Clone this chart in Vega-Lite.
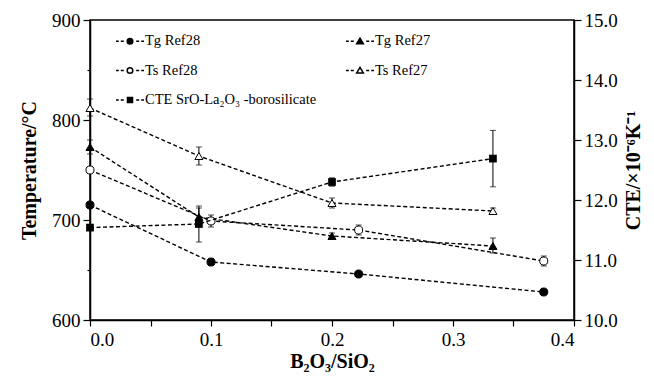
{
  "$schema": "https://vega.github.io/schema/vega-lite/v6.json",
  "width": 484,
  "height": 300,
  "autosize": {"type": "none"},
  "padding": {"left": 90, "top": 20, "right": 80, "bottom": 62},
  "background": "white",
  "datasets": {
    "temps": [
      {"series": "Tg Ref28", "x": 0.0, "T": 715, "lo": 715, "hi": 715},
      {"series": "Tg Ref28", "x": 0.1, "T": 658, "lo": 655, "hi": 661},
      {"series": "Tg Ref28", "x": 0.222, "T": 646, "lo": 644, "hi": 648},
      {"series": "Tg Ref28", "x": 0.375, "T": 628, "lo": 626, "hi": 630},
      {"series": "Ts Ref28", "x": 0.0, "T": 750, "lo": 750, "hi": 750},
      {"series": "Ts Ref28", "x": 0.1, "T": 699, "lo": 693, "hi": 705},
      {"series": "Ts Ref28", "x": 0.222, "T": 690, "lo": 685, "hi": 695},
      {"series": "Ts Ref28", "x": 0.375, "T": 659, "lo": 654, "hi": 664},
      {"series": "Tg Ref27", "x": 0.0, "T": 773, "lo": 766, "hi": 780},
      {"series": "Tg Ref27", "x": 0.09, "T": 703, "lo": 694, "hi": 712},
      {"series": "Tg Ref27", "x": 0.2, "T": 684, "lo": 681, "hi": 687},
      {"series": "Tg Ref27", "x": 0.333, "T": 674, "lo": 667, "hi": 682},
      {"series": "Ts Ref27", "x": 0.0, "T": 812, "lo": 804, "hi": 821},
      {"series": "Ts Ref27", "x": 0.09, "T": 764, "lo": 755, "hi": 773},
      {"series": "Ts Ref27", "x": 0.2, "T": 717, "lo": 712, "hi": 722},
      {"series": "Ts Ref27", "x": 0.333, "T": 709, "lo": 706, "hi": 712}
    ],
    "cte": [
      {"series": "CTE SrO-La₂O₃ -borosilicate", "x": 0.0, "cte": 11.54, "lo": 11.5, "hi": 11.58},
      {"series": "CTE SrO-La₂O₃ -borosilicate", "x": 0.09, "cte": 11.6, "lo": 11.3, "hi": 11.9},
      {"series": "CTE SrO-La₂O₃ -borosilicate", "x": 0.2, "cte": 12.3, "lo": 12.23, "hi": 12.37},
      {"series": "CTE SrO-La₂O₃ -borosilicate", "x": 0.333, "cte": 12.69, "lo": 12.22, "hi": 13.16}
    ]
  },
  "layer": [
    {
      "data": {"name": "temps"},
      "layer": [
        {
          "mark": {"type": "line", "color": "black", "strokeWidth": 1.4, "strokeDash": [4, 2.5]},
          "encoding": {
            "x": {"field": "x", "type": "quantitative", "title": "B₂O₃/SiO₂", "scale": {"domain": [0, 0.4], "nice": false},
              "axis": {"values": [0, 0.05, 0.1, 0.15, 0.2, 0.25, 0.3, 0.35, 0.4], "format": ".1f",
                "labelExpr": "round(datum.value*100) % 10 == 0 ? datum.label : ''"}},
            "y": {"field": "T", "type": "quantitative", "title": "Temperature/°C", "scale": {"domain": [600, 900], "nice": false},
              "axis": {"orient": "left", "values": [600, 650, 700, 750, 800, 850, 900],
                "labelExpr": "datum.value % 100 == 0 ? datum.label : ''",
                "tickSize": {"condition": {"test": "datum.value % 100 != 0", "value": 3}, "value": 7},
                "titlePadding": 12}},
            "detail": {"field": "series"}
          }
        },
        {
          "transform": [{"filter": "datum.hi > datum.lo"}],
          "mark": {"type": "errorbar", "ticks": {"size": 6}, "color": "black", "thickness": 1},
          "encoding": {
            "x": {"field": "x", "type": "quantitative", "title": "B₂O₃/SiO₂"},
            "y": {"field": "lo", "type": "quantitative", "title": "Temperature/°C"},
            "y2": {"field": "hi"}
          }
        },
        {
          "mark": {"type": "point", "filled": true, "stroke": "black", "strokeWidth": 1, "size": 65, "opacity": 1},
          "encoding": {
            "x": {"field": "x", "type": "quantitative", "title": "B₂O₃/SiO₂"},
            "y": {"field": "T", "type": "quantitative", "title": "Temperature/°C"},
            "shape": {"field": "series", "type": "nominal",
              "scale": {"domain": ["Tg Ref28", "Tg Ref27", "Ts Ref28", "Ts Ref27"], "range": ["circle", "triangle-up", "circle", "triangle-up"]},
              "legend": null},
            "fill": {"field": "series", "type": "nominal",
              "scale": {"domain": ["Tg Ref28", "Tg Ref27", "Ts Ref28", "Ts Ref27"], "range": ["black", "black", "white", "white"]},
              "legend": null}
          }
        },
        {
          "mark": {"type": "point", "filled": true, "opacity": 0, "stroke": "black"},
          "encoding": {
            "x": {"field": "x", "type": "quantitative", "title": "B₂O₃/SiO₂"},
            "y": {"field": "T", "type": "quantitative", "title": "Temperature/°C"},
            "shape": {"field": "series", "type": "nominal",
              "scale": {"domain": ["Tg Ref28", "Tg Ref27", "Ts Ref28", "Ts Ref27", "CTE SrO-La₂O₃ -borosilicate"],
                "range": [
                  "M-1,0H-0.8M-0.66,0H-0.44M0.44,0H0.66M0.8,0H1M0.2,0A0.2,0.2,0,1,1,-0.2,0A0.2,0.2,0,1,1,0.2,0Z",
                  "M-1,0H-0.8M-0.66,0H-0.44M0.44,0H0.66M0.8,0H1M0,-0.22L0.24,0.18L-0.24,0.18Z",
                  "M-1,0H-0.8M-0.66,0H-0.44M0.44,0H0.66M0.8,0H1M0.2,0A0.2,0.2,0,1,1,-0.2,0A0.2,0.2,0,1,1,0.2,0Z",
                  "M-1,0H-0.8M-0.66,0H-0.44M0.44,0H0.66M0.8,0H1M0,-0.22L0.24,0.18L-0.24,0.18Z",
                  "M-1,0H-0.8M-0.66,0H-0.44M0.44,0H0.66M0.8,0H1M-0.18,-0.18H0.18V0.18H-0.18Z"
                ]},
              "legend": {"title": null, "orient": "none", "legendX": 25, "legendY": 6, "columns": 2, "direction": "horizontal",
                "columnPadding": 26, "rowPadding": 7.5, "padding": 0, "symbolSize": 784,
                "symbolOpacity": 1, "labelFont": "Liberation Serif", "labelFontSize": 14.5, "labelColor": "black", "labelOffset": 0, "labelLimit": 400,
                "encode": {"symbols": {"update": {"stroke": {"value": "black"}, "strokeWidth": {"value": 1.2}, "opacity": {"value": 1}}}}}},
            "fill": {"field": "series", "type": "nominal",
              "scale": {"domain": ["Tg Ref28", "Tg Ref27", "Ts Ref28", "Ts Ref27", "CTE SrO-La₂O₃ -borosilicate"],
                "range": ["black", "black", "white", "white", "black"]}}
          }
        }
      ],
      "resolve": {"scale": {"shape": "independent", "fill": "independent"}}
    },
    {
      "data": {"name": "cte"},
      "layer": [
        {
          "mark": {"type": "line", "color": "black", "strokeWidth": 1.4, "strokeDash": [4, 2.5]},
          "encoding": {
            "x": {"field": "x", "type": "quantitative", "title": "B₂O₃/SiO₂"},
            "y": {"field": "cte", "type": "quantitative", "title": "CTE/×10⁻⁶K⁻¹", "scale": {"domain": [10, 15], "nice": false},
              "axis": {"orient": "right", "values": [10, 10.5, 11, 11.5, 12, 12.5, 13, 13.5, 14, 14.5, 15],
                "format": ".1f", "labelExpr": "datum.value % 1 == 0 ? datum.label : ''",
                "tickSize": {"condition": {"test": "datum.value % 1 != 0", "value": 3}, "value": 7},
                "titleAngle": 270, "titleBaseline": "top", "titlePadding": 6}}
          }
        },
        {
          "mark": {"type": "errorbar", "ticks": {"size": 6}, "color": "black", "thickness": 1},
          "encoding": {
            "x": {"field": "x", "type": "quantitative", "title": "B₂O₃/SiO₂"},
            "y": {"field": "lo", "type": "quantitative", "title": "CTE/×10⁻⁶K⁻¹"},
            "y2": {"field": "hi"}
          }
        },
        {
          "mark": {"type": "square", "color": "black", "size": 60, "opacity": 1},
          "encoding": {
            "x": {"field": "x", "type": "quantitative", "title": "B₂O₃/SiO₂"},
            "y": {"field": "cte", "type": "quantitative", "title": "CTE/×10⁻⁶K⁻¹"}
          }
        }
      ]
    }
  ],
  "resolve": {"scale": {"y": "independent"}},
  "config": {
    "font": "Liberation Serif",
    "view": {"stroke": "black", "strokeWidth": 1.5},
    "axis": {
      "grid": false,
      "domainColor": "black",
      "domainWidth": 1.5,
      "tickColor": "black",
      "tickWidth": 1.2,
      "labelFont": "Liberation Serif",
      "labelFontSize": 19,
      "labelColor": "black",
      "labelPadding": 3,
      "titleFont": "Liberation Serif",
      "titleFontSize": 20,
      "titleFontWeight": "bold",
      "titleColor": "black"
    },
    "axisX": {"tickSize": 6, "labelPadding": 4, "titlePadding": 2}
  }
}
